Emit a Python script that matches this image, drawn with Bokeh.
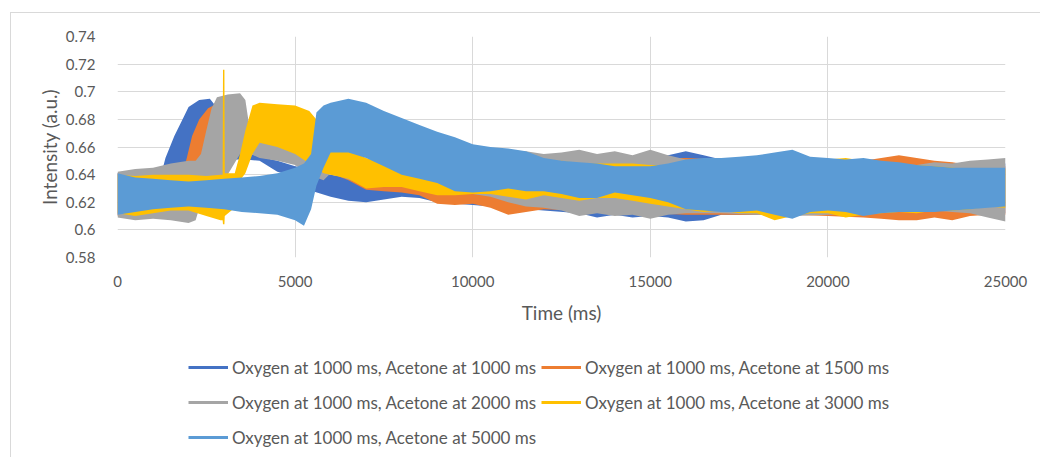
from bokeh.plotting import figure
from bokeh.layouts import column
from bokeh.models import Legend, LegendItem, Range1d, FixedTicker
from bokeh.embed import file_html
from bokeh.resources import INLINE

# ---- data: envelope (upper / lower) of each oscillating intensity trace ----
series_names = [
    "Oxygen at 1000 ms, Acetone at 1000 ms",
    "Oxygen at 1000 ms, Acetone at 1500 ms",
    "Oxygen at 1000 ms, Acetone at 2000 ms",
    "Oxygen at 1000 ms, Acetone at 3000 ms",
    "Oxygen at 1000 ms, Acetone at 5000 ms",
]
series_colors = ["#4472C4", "#ED7D31", "#A5A5A5", "#FFC000", "#5B9BD5"]

t_ac1000 = [0, 500, 1000, 1250, 1350, 1600, 1850, 2000, 2300, 2600, 2750, 2800, 3200, 3600, 4000, 4500,
            5000, 5300, 5500, 6000, 6500, 7000, 7500, 8000, 8500, 9000, 10000, 11000, 12000, 13000,
            13500, 14000, 14500, 15000, 15500, 16000, 16500, 17000, 18000, 19000, 20000, 21000, 22000,
            23000, 24000, 25000]
hi_ac1000 = [0.641, 0.641, 0.641, 0.642, 0.652, 0.668, 0.681, 0.689, 0.694, 0.695, 0.690, 0.662, 0.659,
             0.656, 0.653, 0.650, 0.646, 0.645, 0.640, 0.640, 0.638, 0.636, 0.634, 0.638, 0.640, 0.642,
             0.648, 0.650, 0.651, 0.652, 0.652, 0.652, 0.652, 0.652, 0.654, 0.657, 0.654, 0.651, 0.651,
             0.650, 0.650, 0.649, 0.649, 0.648, 0.648, 0.648]
lo_ac1000 = [0.611, 0.612, 0.613, 0.615, 0.617, 0.621, 0.625, 0.628, 0.632, 0.637, 0.642, 0.648, 0.651,
             0.651, 0.650, 0.642, 0.639, 0.638, 0.628, 0.624, 0.621, 0.620, 0.622, 0.624, 0.623, 0.620,
             0.618, 0.616, 0.614, 0.612, 0.609, 0.611, 0.609, 0.610, 0.609, 0.606, 0.607, 0.611, 0.611,
             0.611, 0.611, 0.611, 0.612, 0.612, 0.612, 0.612]

t_ac1500 = [0, 500, 1000, 1500, 1850, 1950, 2100, 2300, 2550, 2700, 2800, 3500, 4400, 5000, 5500, 6000,
            6500, 7000, 7500, 8000, 8500, 9000, 9500, 10000, 10500, 11000, 11500, 12000, 13000, 14000,
            15000, 16000, 17000, 18000, 19000, 20000, 21000, 21500, 22000, 22500, 23000, 23500, 24000,
            24500, 25000]
hi_ac1500 = [0.641, 0.641, 0.641, 0.641, 0.642, 0.652, 0.668, 0.680, 0.688, 0.690, 0.665, 0.662, 0.658,
             0.652, 0.650, 0.652, 0.650, 0.645, 0.640, 0.640, 0.640, 0.642, 0.645, 0.650, 0.656, 0.658,
             0.655, 0.654, 0.652, 0.652, 0.652, 0.652, 0.651, 0.651, 0.651, 0.650, 0.650, 0.652, 0.654,
             0.652, 0.650, 0.649, 0.647, 0.646, 0.646]
lo_ac1500 = [0.610, 0.611, 0.611, 0.612, 0.614, 0.618, 0.622, 0.627, 0.633, 0.640, 0.650, 0.657, 0.652,
             0.648, 0.642, 0.641, 0.636, 0.629, 0.628, 0.627, 0.625, 0.619, 0.618, 0.619, 0.616, 0.611,
             0.613, 0.615, 0.614, 0.613, 0.612, 0.611, 0.611, 0.611, 0.611, 0.610, 0.609, 0.608, 0.607,
             0.607, 0.609, 0.607, 0.610, 0.611, 0.611]

t_ac2000 = [0, 500, 1000, 1500, 2000, 2200, 2350, 2500, 2650, 2800, 3100, 3450, 3600, 3750, 4000, 4500,
            5000, 5400, 5800, 6000, 7000, 8000, 9000, 10000, 10500, 11000, 11500, 12000, 12500, 13000,
            13500, 14000, 14500, 15000, 15500, 16000, 17000, 18000, 19000, 20000, 21000, 22000, 22500,
            23000, 23500, 24000, 24500, 25000]
hi_ac2000 = [0.642, 0.644, 0.645, 0.648, 0.650, 0.650, 0.655, 0.672, 0.688, 0.696, 0.698, 0.699, 0.694,
             0.668, 0.665, 0.663, 0.660, 0.650, 0.646, 0.650, 0.645, 0.642, 0.640, 0.645, 0.650, 0.655,
             0.657, 0.655, 0.656, 0.658, 0.655, 0.657, 0.654, 0.658, 0.654, 0.651, 0.650, 0.651, 0.651,
             0.650, 0.649, 0.648, 0.647, 0.649, 0.648, 0.650, 0.651, 0.652]
lo_ac2000 = [0.609, 0.607, 0.608, 0.607, 0.605, 0.607, 0.620, 0.630, 0.636, 0.638, 0.640, 0.655, 0.656,
             0.655, 0.652, 0.650, 0.647, 0.640, 0.636, 0.641, 0.632, 0.632, 0.626, 0.626, 0.624, 0.620,
             0.617, 0.616, 0.614, 0.610, 0.612, 0.610, 0.611, 0.608, 0.611, 0.612, 0.612, 0.611, 0.610,
             0.611, 0.612, 0.613, 0.615, 0.614, 0.613, 0.612, 0.609, 0.606]

t_ac3000 = [0, 500, 1000, 1500, 2000, 2500, 2900, 2960, 2970, 3010, 3020, 3300, 3450, 3600, 3800, 4000,
            4500, 5000, 5400, 5600, 5800, 6000, 6500, 7000, 7500, 8000, 8500, 9000, 9500, 10000, 10500,
            11000, 11500, 12000, 12500, 13000, 13500, 14000, 14500, 15000, 15500, 16000, 16500, 17000,
            17500, 18000, 18500, 19000, 19500, 20000, 20500, 21000, 21500, 22000, 22500, 23000, 23500,
            24000, 24500, 25000]
hi_ac3000 = [0.640, 0.639, 0.640, 0.640, 0.640, 0.639, 0.640, 0.640, 0.716, 0.716, 0.641, 0.641, 0.655,
             0.672, 0.690, 0.692, 0.691, 0.690, 0.686, 0.680, 0.660, 0.659, 0.658, 0.652, 0.648, 0.644,
             0.640, 0.636, 0.634, 0.633, 0.634, 0.636, 0.640, 0.645, 0.650, 0.648, 0.648, 0.648, 0.648,
             0.647, 0.647, 0.650, 0.649, 0.650, 0.650, 0.653, 0.655, 0.655, 0.652, 0.651, 0.652, 0.650,
             0.648, 0.647, 0.647, 0.646, 0.645, 0.644, 0.643, 0.644]
lo_ac3000 = [0.612, 0.610, 0.612, 0.614, 0.614, 0.610, 0.607, 0.607, 0.604, 0.604, 0.610, 0.616, 0.636,
             0.641, 0.655, 0.663, 0.660, 0.655, 0.648, 0.645, 0.641, 0.640, 0.637, 0.630, 0.631, 0.631,
             0.628, 0.625, 0.625, 0.626, 0.626, 0.624, 0.622, 0.625, 0.623, 0.621, 0.623, 0.623, 0.621,
             0.619, 0.617, 0.615, 0.613, 0.614, 0.612, 0.612, 0.607, 0.610, 0.612, 0.612, 0.609, 0.611,
             0.612, 0.613, 0.612, 0.614, 0.614, 0.615, 0.617, 0.616]

t_ac5000 = [0, 500, 1000, 1500, 2000, 2500, 3000, 3500, 4000, 4500, 5000, 5250, 5450, 5600, 5800, 6000,
            6500, 7000, 7500, 8000, 8500, 9000, 9500, 10000, 10500, 11000, 11500, 12000, 12500, 13000,
            13500, 14000, 14500, 15000, 15500, 16000, 16500, 17000, 17500, 18000, 18500, 19000, 19500,
            20000, 20500, 21000, 21500, 22000, 22500, 23000, 23500, 24000, 24500, 25000]
hi_ac5000 = [0.641, 0.638, 0.637, 0.636, 0.635, 0.636, 0.637, 0.638, 0.639, 0.641, 0.645, 0.648, 0.655,
             0.685, 0.690, 0.692, 0.695, 0.692, 0.686, 0.681, 0.676, 0.671, 0.667, 0.662, 0.660, 0.659,
             0.657, 0.652, 0.650, 0.649, 0.648, 0.646, 0.646, 0.646, 0.648, 0.651, 0.652, 0.652, 0.653,
             0.654, 0.656, 0.658, 0.653, 0.652, 0.651, 0.652, 0.650, 0.649, 0.647, 0.646, 0.645, 0.645,
             0.645, 0.645]
lo_ac5000 = [0.611, 0.613, 0.615, 0.616, 0.617, 0.616, 0.615, 0.613, 0.612, 0.611, 0.607, 0.603, 0.615,
             0.632, 0.645, 0.656, 0.656, 0.652, 0.646, 0.640, 0.637, 0.634, 0.628, 0.627, 0.628, 0.630,
             0.628, 0.628, 0.626, 0.623, 0.623, 0.627, 0.625, 0.623, 0.620, 0.615, 0.614, 0.613, 0.613,
             0.614, 0.611, 0.608, 0.613, 0.614, 0.613, 0.610, 0.612, 0.613, 0.613, 0.613, 0.614, 0.615,
             0.616, 0.617]

x_ticks = [0, 5000, 10000, 15000, 20000, 25000]
y_ticks = [0.58, 0.6, 0.62, 0.64, 0.66, 0.68, 0.7, 0.72, 0.74]
y_tick_labels = ["0.58", "0.6", "0.62", "0.64", "0.66", "0.68", "0.7", "0.72", "0.74"]

FONT = "Lato"
TEXT = "#595959"
GRID = "#d9d9d9"

traces = [
    (t_ac1000, hi_ac1000, lo_ac1000),
    (t_ac1500, hi_ac1500, lo_ac1500),
    (t_ac2000, hi_ac2000, lo_ac2000),
    (t_ac3000, hi_ac3000, lo_ac3000),
    (t_ac5000, hi_ac5000, lo_ac5000),
]

# ---- main chart ----
p = figure(width=1029, height=339, output_backend="svg", toolbar_location=None,
           x_range=Range1d(0, 25000), y_range=Range1d(0.58, 0.74),
           min_border_left=106, min_border_right=35, min_border_top=23, min_border_bottom=95)
p.background_fill_color = "white"
p.border_fill_color = "white"
p.outline_line_color = None

for (t, hi, lo), col in zip(traces, series_colors):
    p.varea(x=t, y1=lo, y2=hi, fill_color=col, fill_alpha=1.0)

p.xaxis.ticker = FixedTicker(ticks=x_ticks)
p.yaxis.ticker = FixedTicker(ticks=y_ticks)
p.yaxis.major_label_overrides = {v: s for v, s in zip(y_ticks, y_tick_labels)}
for ax in (p.xaxis[0], p.yaxis[0]):
    ax.axis_line_color = None
    ax.major_tick_line_color = None
    ax.minor_tick_line_color = None
    ax.major_label_text_font = FONT
    ax.major_label_text_font_size = "15px"
    ax.major_label_text_color = TEXT
    ax.axis_label_text_font = FONT
    ax.axis_label_text_font_size = "19px"
    ax.axis_label_text_font_style = "normal"
    ax.axis_label_text_color = TEXT
p.xaxis.axis_label = "Time (ms)"
p.yaxis.axis_label = "Intensity (a.u.)"
p.xaxis.major_label_standoff = 12
p.yaxis.major_label_standoff = 16
p.xaxis.axis_label_standoff = 11
p.yaxis.axis_label_standoff = 2

p.xgrid.grid_line_color = GRID
p.ygrid.grid_line_color = GRID

# ---- legend strip below the chart ----
# its ranges sit away from the data so the key lines only appear in the legend
pl = figure(width=1029, height=105, output_backend="svg", toolbar_location=None,
            x_range=Range1d(-2, -1), y_range=Range1d(-2, -1),
            x_axis_type=None, y_axis_type=None,
            min_border_left=0, min_border_right=0, min_border_top=0, min_border_bottom=0)
pl.outline_line_color = None
pl.xgrid.visible = False
pl.ygrid.visible = False
pl.border_fill_color = "white"
pl.background_fill_color = "white"

items = []
for (t, hi, lo), name, col in zip(traces, series_names, series_colors):
    key = pl.line(x=t, y=hi, line_color=col, line_width=3)
    items.append(LegendItem(label=name, renderers=[key]))

legend = Legend(items=items, ncols=2, orientation="horizontal", location=(71, 5),
                glyph_width=40, glyph_height=30, label_height=30, label_standoff=4,
                spacing=5, padding=0, margin=0,
                label_text_font=FONT, label_text_font_size="17px", label_text_color=TEXT,
                border_line_color=None, background_fill_alpha=0)
pl.add_layout(legend, "center")

root = column(p, pl, spacing=0, margin=(12, 0, 0, 10),
              styles={"border-top": "1px solid #d9d9d9", "border-left": "1px solid #d9d9d9"})

open("out.html", "w").write(file_html(root, INLINE))
